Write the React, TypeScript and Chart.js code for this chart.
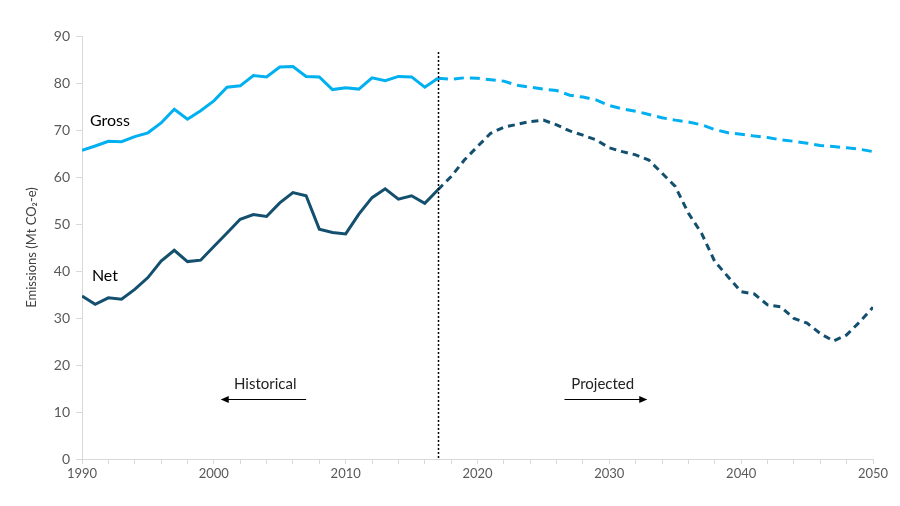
import React, { useEffect, useRef } from "react";
import { Chart, registerables } from "chart.js";

Chart.register(...registerables);

const historicalYears = [1990, 1991, 1992, 1993, 1994, 1995, 1996, 1997, 1998, 1999, 2000, 2001, 2002, 2003, 2004, 2005, 2006, 2007, 2008, 2009, 2010, 2011, 2012, 2013, 2014, 2015, 2016, 2017];
const grossHistorical = [65.7, 66.6, 67.6, 67.5, 68.6, 69.4, 71.5, 74.4, 72.3, 74.1, 76.2, 79.1, 79.4, 81.6, 81.3, 83.4, 83.5, 81.4, 81.3, 78.6, 79.0, 78.7, 81.1, 80.5, 81.4, 81.3, 79.1, 81.0];
const netHistorical = [34.7, 32.9, 34.3, 34.0, 36.1, 38.6, 42.1, 44.4, 42.0, 42.3, 45.2, 48.1, 51.0, 52.0, 51.6, 54.5, 56.7, 56.0, 48.9, 48.2, 47.9, 52.1, 55.6, 57.5, 55.3, 56.0, 54.4, 57.3];

const projectedYears = [2017, 2018, 2019, 2020, 2021, 2022, 2023, 2024, 2025, 2026, 2027, 2028, 2029, 2030, 2031, 2032, 2033, 2034, 2035, 2036, 2037, 2038, 2039, 2040, 2041, 2042, 2043, 2044, 2045, 2046, 2047, 2048, 2049, 2050];
const grossProjected = [81.0, 80.8, 81.1, 81.0, 80.7, 80.4, 79.5, 79.1, 78.7, 78.4, 77.4, 77.0, 76.4, 75.2, 74.5, 74.0, 73.3, 72.6, 72.1, 71.7, 71.1, 70.1, 69.4, 69.1, 68.7, 68.4, 67.9, 67.6, 67.2, 66.7, 66.5, 66.2, 65.9, 65.4];
const netProjected = [57.3, 60.1, 63.6, 66.5, 69.3, 70.6, 71.2, 71.8, 72.1, 71.1, 69.8, 68.9, 67.9, 66.2, 65.4, 64.7, 63.6, 60.8, 58.0, 52.3, 48.0, 42.0, 38.8, 35.6, 35.1, 32.8, 32.4, 29.9, 28.9, 26.7, 25.1, 26.4, 29.2, 32.3];

const dividerYear = 2017;
const seriesLabels = ["Gross", "Net"];
const yTitle = "Emissions (Mt CO₂-e)";

const GROSS_COLOR = "#00b0f0";
const NET_COLOR = "#134f6e";
const FONT = "Lato, 'Open Sans', sans-serif";

function pts(xs: number[], ys: number[]) {
  return xs.map((x, i) => ({ x, y: ys[i] }));
}

const annotationPlugin = {
  id: "annotations",
  afterDatasetsDraw(chart: any) {
    const { ctx, scales } = chart;
    const xs = scales.x;
    const ys = scales.y;
    ctx.save();
    const dx = Math.round(xs.getPixelForValue(dividerYear)) + 0.5;
    ctx.strokeStyle = "#000";
    ctx.lineWidth = 1.5;
    ctx.setLineDash([2, 2]);
    ctx.beginPath();
    ctx.moveTo(dx, ys.getPixelForValue(86.6));
    ctx.lineTo(dx, ys.getPixelForValue(0));
    ctx.stroke();
    ctx.setLineDash([]);

    ctx.fillStyle = "#000";
    ctx.font = `16px ${FONT}`;
    ctx.textBaseline = "middle";
    ctx.textAlign = "left";
    ctx.fillText(seriesLabels[0], xs.getPixelForValue(1990.6), ys.getPixelForValue(71.9));
    ctx.fillText(seriesLabels[1], xs.getPixelForValue(1990.75), ys.getPixelForValue(38.9));

    ctx.fillStyle = "#222";
    ctx.font = `15px ${FONT}`;
    ctx.textAlign = "center";
    ctx.fillText("Historical", xs.getPixelForValue(2003.9), ys.getPixelForValue(16));
    ctx.fillText("Projected", xs.getPixelForValue(2029.5), ys.getPixelForValue(16));

    const arrow = (x1: number, x2: number, yv: number) => {
      const a = xs.getPixelForValue(x1);
      const b = xs.getPixelForValue(x2);
      const y = Math.round(ys.getPixelForValue(yv)) + 0.5;
      ctx.strokeStyle = "#000";
      ctx.fillStyle = "#000";
      ctx.lineWidth = 1;
      ctx.beginPath();
      ctx.moveTo(a, y);
      ctx.lineTo(b, y);
      ctx.stroke();
      const dir = b > a ? 1 : -1;
      ctx.beginPath();
      ctx.moveTo(b + dir * 1, y);
      ctx.lineTo(b - dir * 7, y - 3.5);
      ctx.lineTo(b - dir * 7, y + 3.5);
      ctx.closePath();
      ctx.fill();
    };
    arrow(2007.0, 2000.6, 12.8);
    arrow(2026.6, 2032.8, 12.8);
    ctx.restore();
  },
};

export default function App() {
  const ref = useRef<HTMLCanvasElement>(null);
  useEffect(() => {
    if (!ref.current) return;
    const chart = new Chart(ref.current, {
      type: "line",
      data: {
        datasets: [
          {
            label: "Gross historical",
            data: pts(historicalYears, grossHistorical),
            borderColor: GROSS_COLOR,
            borderWidth: 3,
            pointRadius: 0,
            tension: 0,
          },
          {
            label: "Gross projected",
            data: pts(projectedYears, grossProjected),
            borderColor: GROSS_COLOR,
            borderWidth: 3,
            borderDash: [10, 6],
            pointRadius: 0,
            tension: 0,
          },
          {
            label: "Net historical",
            data: pts(historicalYears, netHistorical),
            borderColor: NET_COLOR,
            borderWidth: 3,
            pointRadius: 0,
            tension: 0,
          },
          {
            label: "Net projected",
            data: pts(projectedYears, netProjected),
            borderColor: NET_COLOR,
            borderWidth: 3,
            borderDash: [7, 5],
            pointRadius: 0,
            tension: 0,
          },
        ],
      },
      options: {
        animation: false,
        responsive: false,
        maintainAspectRatio: false,
        layout: { padding: { left: 0, right: 27, top: 36, bottom: 0 } },
        plugins: {
          legend: { display: false },
          tooltip: { enabled: false },
        },
        scales: {
          x: {
            type: "linear",
            min: 1990,
            max: 2050,
            border: { color: "#d9d9d9", width: 1 },
            grid: {
              drawOnChartArea: false,
              drawTicks: true,
              tickLength: 5,
              color: "#d9d9d9",
            },
            ticks: {
              stepSize: 2,
              autoSkip: false,
              maxRotation: 0,
              color: "#595959",
              padding: 2,
              font: { family: FONT, size: 13 },
              callback: (v: any) => (Number(v) % 10 === 0 ? String(v) : ""),
            },
            afterFit: (s: any) => {
              s.height = 47;
            },
          },
          y: {
            min: 0,
            max: 90,
            border: { color: "#d9d9d9", width: 1 },
            grid: {
              drawOnChartArea: false,
              drawTicks: true,
              tickLength: 6,
              color: "#d9d9d9",
            },
            ticks: {
              stepSize: 10,
              color: "#595959",
              padding: 6,
              font: { family: FONT, size: 14 },
            },
            title: {
              display: true,
              text: yTitle,
              color: "#404040",
              font: { family: FONT, size: 13 },
              padding: { top: 24, bottom: 0 },
            },
            afterFit: (s: any) => {
              s.width = 82;
            },
          },
        },
      },
      plugins: [annotationPlugin],
    });
    return () => chart.destroy();
  }, []);
  return (
    <div style={{ position: "fixed", left: 0, top: 0, width: 900, height: 506, background: "#fff" }}>
      <canvas ref={ref} width={900} height={506} style={{ width: 900, height: 506 }} />
    </div>
  );
}
